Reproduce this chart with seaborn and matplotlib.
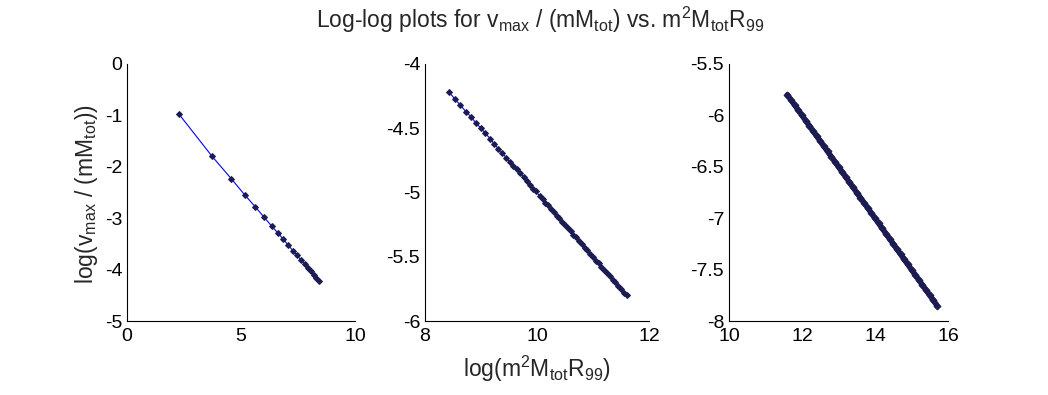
import numpy as np
import pandas as pd
import seaborn as sns
import matplotlib
matplotlib.use('Agg')
import matplotlib.pyplot as plt

sns.set_style('white')
plt.rcParams['font.family'] = ['Liberation Sans', 'DejaVu Sans']
plt.rcParams['mathtext.fontset'] = 'custom'
plt.rcParams['mathtext.rm'] = 'Liberation Sans'
plt.rcParams['mathtext.it'] = 'Liberation Sans'
plt.rcParams['mathtext.default'] = 'regular'

#%% data
x1 = [2.27, 3.72, 4.57, 5.17, 5.63, 6.01, 6.34, 6.62, 6.86, 7.08, 7.28, 7.46,
      7.63, 7.79, 7.93, 8.06, 8.19, 8.31, 8.42]
y1 = [-0.97, -1.79, -2.23, -2.55, -2.78, -2.98, -3.15, -3.29, -3.41, -3.53,
      -3.63, -3.72, -3.81, -3.89, -3.97, -4.03, -4.10, -4.16, -4.22]

x2 = [8.43, 8.53, 8.63, 8.73, 8.82, 8.91, 9.00, 9.08, 9.16, 9.23, 9.31, 9.38,
      9.45, 9.51, 9.58, 9.64, 9.70, 9.76, 9.82, 9.87, 9.93, 9.98,
      10.05, 10.10, 10.15, 10.20, 10.25, 10.30, 10.35, 10.40, 10.45, 10.50,
      10.55, 10.60, 10.65, 10.70, 10.75, 10.80, 10.85, 10.90, 10.95, 11.00,
      11.05, 11.10, 11.15, 11.20, 11.25, 11.30, 11.35, 11.40, 11.45, 11.50,
      11.55, 11.60]
y2 = [-4.22, -4.27, -4.32, -4.37, -4.41, -4.46, -4.50, -4.54, -4.58, -4.62,
      -4.66, -4.69, -4.73, -4.76, -4.79, -4.82, -4.85, -4.88, -4.91, -4.94,
      -4.97, -4.99,
      -5.03, -5.05, -5.08, -5.10, -5.13, -5.15, -5.18, -5.20, -5.23, -5.25,
      -5.28, -5.30, -5.33, -5.35, -5.38, -5.40, -5.43, -5.45, -5.48, -5.50,
      -5.53, -5.55, -5.58, -5.60, -5.63, -5.65, -5.68, -5.70, -5.73, -5.75,
      -5.78, -5.80]

x3 = [11.6, 11.7, 11.8, 11.9, 12.0, 12.1, 12.2, 12.3, 12.4, 12.5, 12.6, 12.7,
      12.8, 12.9, 13.0, 13.1, 13.2, 13.3, 13.4, 13.5, 13.6, 13.7, 13.8, 13.9,
      14.0, 14.1, 14.2, 14.3, 14.4, 14.5, 14.6, 14.7, 14.8, 14.9, 15.0, 15.1,
      15.2, 15.3, 15.4, 15.5, 15.6, 15.7]
y3 = [-5.80, -5.85, -5.90, -5.95, -6.00, -6.05, -6.10, -6.15, -6.20, -6.25,
      -6.30, -6.35, -6.40, -6.45, -6.50, -6.55, -6.60, -6.65, -6.70, -6.75,
      -6.80, -6.85, -6.90, -6.95, -7.00, -7.05, -7.10, -7.15, -7.20, -7.25,
      -7.30, -7.35, -7.40, -7.45, -7.50, -7.55, -7.60, -7.65, -7.70, -7.75,
      -7.80, -7.85]

xlims = [(0, 10), (8, 12), (10, 16)]
ylims = [(-5, 0), (-6, -4), (-8, -5.5)]
xticks = [[0, 5, 10], [8, 10, 12], [10, 12, 14, 16]]
yticks = [[-5, -4, -3, -2, -1, 0], [-6, -5.5, -5, -4.5, -4],
          [-8, -7.5, -7, -6.5, -6, -5.5]]

#%% figure
W, H = 1048, 395
fig = plt.figure(figsize=(W / 100, H / 100), dpi=100)
fig.patch.set_facecolor('white')

# axes boxes in pixels: (left, right)
boxes = [(127, 355), (425, 649), (729, 948)]
top, bottom = 64, 321

navy = '#1c1c52'
fs = 14
fs_lab = 16.5

for i, (xs, ys) in enumerate([(x1, y1), (x2, y2), (x3, y3)]):
    l, r = boxes[i]
    ax = fig.add_axes([l / W, 1 - bottom / H, (r - l) / W, (bottom - top) / H])
    df = pd.DataFrame({'x': xs, 'y': ys})
    if i < 2:
        sns.lineplot(data=df, x='x', y='y', ax=ax, estimator=None, sort=False,
                     color='#0000ff', linewidth=0.8, marker='D', markersize=3,
                     markerfacecolor=navy, markeredgecolor=navy)
    else:
        sns.lineplot(data=df, x='x', y='y', ax=ax, estimator=None, sort=False,
                     color=navy, linewidth=4, marker='D', markersize=3.5,
                     markerfacecolor=navy, markeredgecolor=navy)
    ax.set_xlim(*xlims[i])
    ax.set_ylim(*ylims[i])
    ax.set_xticks(xticks[i])
    ax.set_yticks(yticks[i])
    ax.set_xticklabels([f'{v:g}' for v in xticks[i]])
    ax.set_yticklabels([f'{v:g}' for v in yticks[i]])
    ax.set_xlabel('')
    ax.set_ylabel('')
    sns.despine(ax=ax)
    for s in ['left', 'bottom']:
        ax.spines[s].set_linewidth(0.8)
        ax.spines[s].set_color('black')
    ax.tick_params(axis='both', direction='in', length=3, width=0.8,
                   labelsize=fs, colors='black')
    ax.tick_params(axis='x', pad=5)
    ax.tick_params(axis='y', pad=3.5)
    ax.set_facecolor('white')

fig.text(540 / W, 1 - 20 / H,
         'Log-log plots for v$_{max}$ / (mM$_{tot}$) vs. m$^{2}$M$_{tot}$R$_{99}$',
         ha='center', va='center', fontsize=fs_lab)
fig.text(86 / W, 1 - 194 / H, 'log(v$_{max}$ / (mM$_{tot}$))',
         ha='center', va='center', rotation=90, fontsize=fs_lab)
fig.text(537 / W, 1 - 369 / H, 'log(m$^{2}$M$_{tot}$R$_{99}$)',
         ha='center', va='center', fontsize=fs_lab)

fig.savefig('out.png', dpi=100, facecolor='white')
